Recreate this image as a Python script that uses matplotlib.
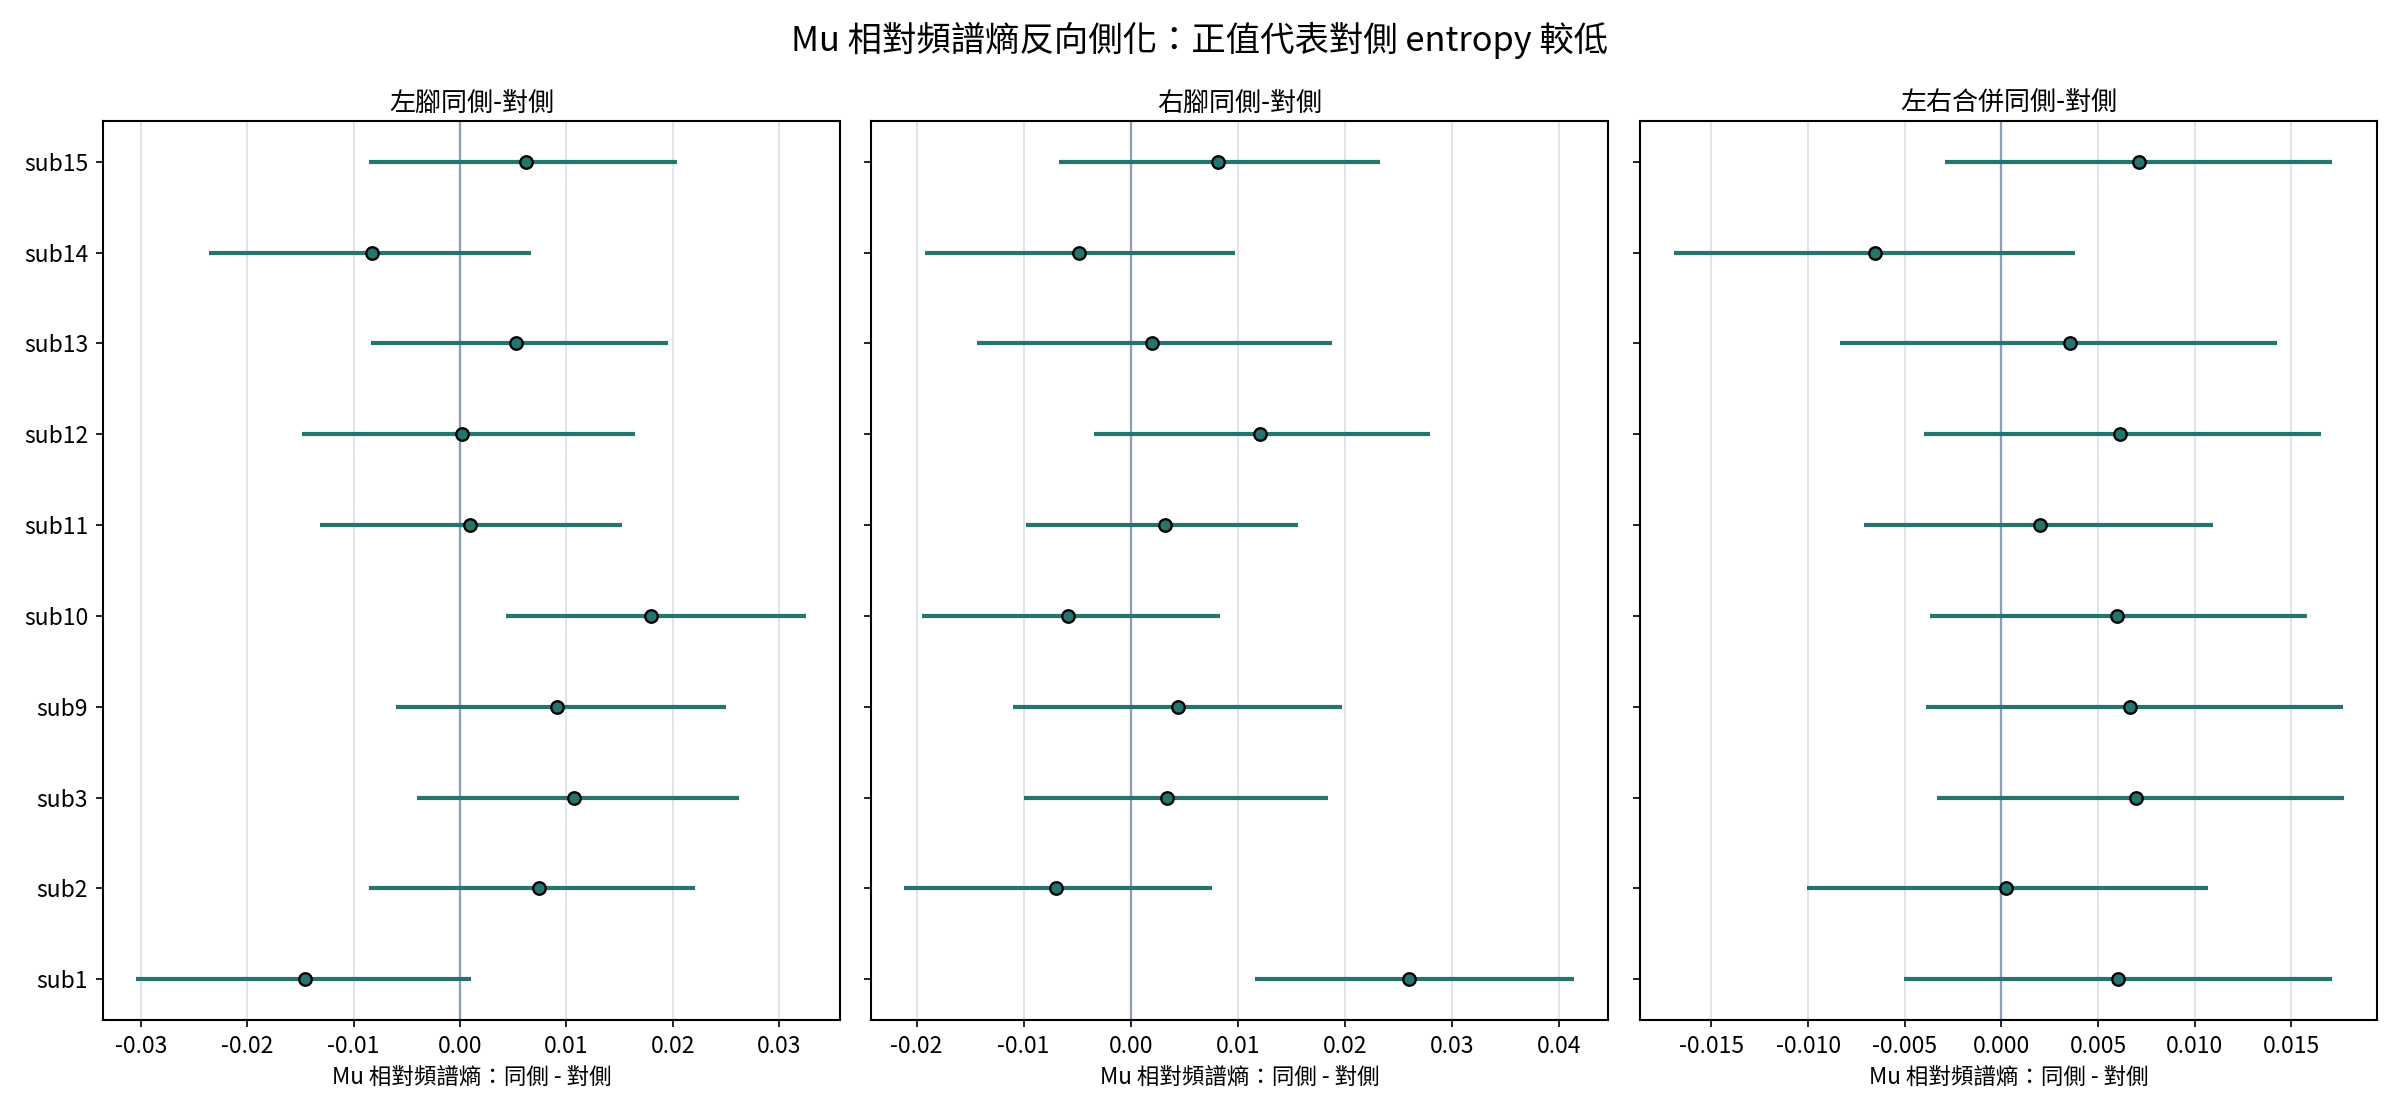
import matplotlib
matplotlib.use("Agg")
import matplotlib.pyplot as plt
import numpy as np

plt.rcParams['font.family'] = ['Noto Sans CJK TC', 'DejaVu Sans']
plt.rcParams['axes.unicode_minus'] = False

subjects = ["sub1", "sub2", "sub3", "sub9", "sub10", "sub11", "sub12", "sub13", "sub14", "sub15"]

# Left foot (ipsi - contra)
left_pt = [-0.01459, 0.00743, 0.01068, 0.00907, 0.01797, 0.00093, 0.00018, 0.00525, -0.00827, 0.00618]
left_lo = [-0.03043, -0.00854, -0.00405, -0.00601, 0.00431, -0.01317, -0.01486, -0.00836, -0.02358, -0.00859]
left_hi = [0.00102, 0.02206, 0.02620, 0.02500, 0.03256, 0.01526, 0.01646, 0.01957, 0.00663, 0.02042]

# Right foot
right_pt = [0.02603, -0.00699, 0.00343, 0.00438, -0.00586, 0.00320, 0.01209, 0.00203, -0.00478, 0.00816]
right_lo = [0.01159, -0.02115, -0.00992, -0.01101, -0.01949, -0.00974, -0.00347, -0.01439, -0.01922, -0.00672]
right_hi = [0.04145, 0.00758, 0.01840, 0.01971, 0.00834, 0.01561, 0.02797, 0.01876, 0.00974, 0.02332]

# Combined
comb_pt = [0.00603, 0.00022, 0.00698, 0.00666, 0.00599, 0.00202, 0.00611, 0.00357, -0.00656, 0.00711]
comb_lo = [-0.00504, -0.01007, -0.00334, -0.00389, -0.00369, -0.00713, -0.00399, -0.00833, -0.01696, -0.00292]
comb_hi = [0.01708, 0.01067, 0.01771, 0.01766, 0.01581, 0.01097, 0.01653, 0.01426, 0.00382, 0.01708]

titles = ["左腳同側-對側", "右腳同側-對側", "左右合併同側-對側"]
suptitle = "Mu 相對頻譜熵反向側化：正值代表對側 entropy 較低"
xlabel = "Mu 相對頻譜熵：同側 - 對側"

panels = [(left_pt, left_lo, left_hi), (right_pt, right_lo, right_hi), (comb_pt, comb_lo, comb_hi)]

teal = "#24756E"
fig = plt.figure(figsize=(16, 7.4667), dpi=150)
lefts = [102.7 / 2400, 870.7 / 2400, 1640 / 2400]
width = 737.3 / 2400
bottom = 1 - 1020 / 1120
height = (1020 - 121) / 1120

axes = []
for i, (pt, lo, hi) in enumerate(panels):
    ax = fig.add_axes([lefts[i], bottom, width, height], sharey=axes[0] if axes else None)
    axes.append(ax)
    pt = np.array(pt); lo = np.array(lo); hi = np.array(hi)
    y = np.arange(len(subjects))
    ax.grid(axis='x', color='#dde4ee', linewidth=0.9, zorder=0)
    ax.set_axisbelow(True)
    ax.axvline(0, color='#8e9db8', linewidth=1.1, zorder=1)
    ax.errorbar(pt, y, xerr=[pt - lo, hi - pt], fmt='o', color=teal, ecolor=teal,
                elinewidth=2.0, capsize=0, ms=6, mfc=teal, mec='black', mew=1.1, zorder=3)
    ax.set_title(titles[i], fontsize=12.5, pad=5)
    ax.set_xlabel(xlabel, fontsize=10.8, labelpad=4.5)
    ax.set_yticks(y)
    if i == 0:
        ax.set_yticklabels(subjects)
    else:
        ax.tick_params(axis='y', labelleft=False)
    ax.tick_params(labelsize=11)
    for s in ax.spines.values():
        s.set_linewidth(1.0)

fig.suptitle(suptitle, fontsize=16.5, y=0.964, va='center')
fig.savefig("out.png", dpi=150)
